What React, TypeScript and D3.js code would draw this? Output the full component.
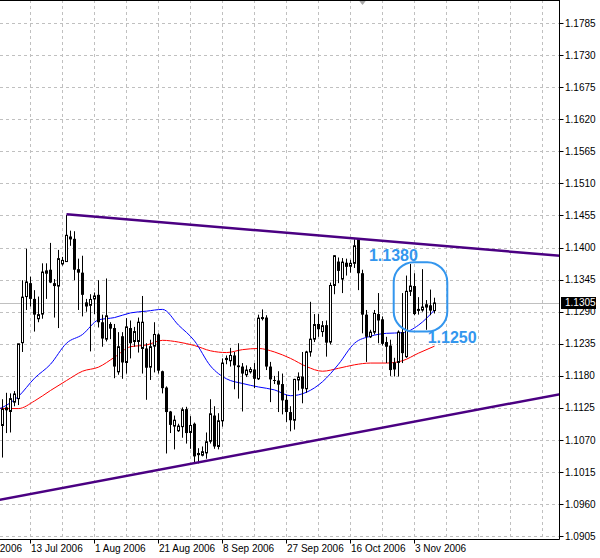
import React, {FC, useEffect, useRef} from 'react';
import * as d3 from 'd3';

// candles, index = bar number from the left edge of the chart
const opens = [
  1.1095, 1.1126, 1.1119, 1.1135, 1.1141, 1.1237, 1.1316, 1.1339, 1.1312, 1.1278,
  1.1286, 1.1356, 1.1362, 1.1339, 1.1334, 1.1372, 1.1376, 1.1419, 1.1415, 1.1363,
  1.1357, 1.1306, 1.1301, 1.1312, 1.1319, 1.1272, 1.1243, 1.1269, 1.1262, 1.1187,
  1.1248, 1.1203, 1.1262, 1.1239, 1.1239, 1.1227, 1.1227, 1.1195, 1.1231, 1.1251,
  1.1188, 1.1160, 1.1119, 1.1094, 1.1086, 1.1093, 1.1123, 1.1083, 1.1098, 1.1045,
  1.1044, 1.1048, 1.1068, 1.1112, 1.1059, 1.1103, 1.1208, 1.1206, 1.1215, 1.1198,
  1.1196, 1.1182, 1.1187, 1.1191, 1.1175, 1.1279, 1.1280, 1.1196, 1.1173, 1.1172,
  1.1166, 1.1139, 1.1118, 1.1104, 1.1173, 1.1179, 1.1158, 1.1221, 1.1243, 1.1269,
  1.1256, 1.1267, 1.1238, 1.1335, 1.1376, 1.1346, 1.1374, 1.1368, 1.1373, 1.1414,
  1.1356, 1.1285, 1.1247, 1.1255, 1.1286, 1.1277, 1.1238, 1.1232, 1.1203, 1.1203,
  1.1255, 1.1213, 1.1325, 1.1334, 1.1293, 1.1293, 1.1298, 1.1301, 1.1292,
];
const highs = [
  1.1140, 1.1151, 1.1150, 1.1154, 1.1235, 1.1344, 1.1398, 1.1350, 1.1327, 1.1316,
  1.1373, 1.1373, 1.1408, 1.1346, 1.1396, 1.1384, 1.1456, 1.1429, 1.1428, 1.1381,
  1.1386, 1.1312, 1.1320, 1.1323, 1.1344, 1.1285, 1.1347, 1.1272, 1.1269, 1.1255,
  1.1255, 1.1279, 1.1275, 1.1264, 1.1280, 1.1317, 1.1236, 1.1242, 1.1272, 1.1253,
  1.1189, 1.1162, 1.1120, 1.1112, 1.1098, 1.1126, 1.1127, 1.1111, 1.1100, 1.1056,
  1.1059, 1.1083, 1.1140, 1.1128, 1.1116, 1.1210, 1.1215, 1.1228, 1.1221, 1.1236,
  1.1202, 1.1198, 1.1195, 1.1202, 1.1285, 1.1294, 1.1284, 1.1204, 1.1180, 1.1188,
  1.1184, 1.1148, 1.1128, 1.1175, 1.1186, 1.1221, 1.1223, 1.1307, 1.1286, 1.1286,
  1.1274, 1.1275, 1.1340, 1.1387, 1.1383, 1.1382, 1.1381, 1.1379, 1.1414, 1.1414,
  1.1362, 1.1293, 1.1259, 1.1293, 1.1322, 1.1282, 1.1247, 1.1242, 1.1211, 1.1258,
  1.1322, 1.1352, 1.1372, 1.1356, 1.1315, 1.1363, 1.1310, 1.1328, 1.1314,
];
const lows = [
  1.1040, 1.1082, 1.1083, 1.1128, 1.1130, 1.1221, 1.1293, 1.1299, 1.1256, 1.1272,
  1.1278, 1.1312, 1.1339, 1.1280, 1.1262, 1.1369, 1.1376, 1.1403, 1.1344, 1.1293,
  1.1282, 1.1290, 1.1222, 1.1286, 1.1263, 1.1230, 1.1239, 1.1243, 1.1176, 1.1182,
  1.1175, 1.1184, 1.1210, 1.1230, 1.1220, 1.1184, 1.1139, 1.1173, 1.1186, 1.1184,
  1.1150, 1.1047, 1.1082, 1.1054, 1.1084, 1.1074, 1.1064, 1.1055, 1.1032, 1.1030,
  1.1042, 1.1038, 1.1064, 1.1055, 1.1054, 1.1093, 1.1200, 1.1196, 1.1157, 1.1141,
  1.1119, 1.1178, 1.1184, 1.1159, 1.1173, 1.1275, 1.1190, 1.1135, 1.1166, 1.1118,
  1.1114, 1.1101, 1.1085, 1.1088, 1.1155, 1.1133, 1.1151, 1.1213, 1.1238, 1.1247,
  1.1247, 1.1213, 1.1234, 1.1320, 1.1339, 1.1322, 1.1352, 1.1357, 1.1365, 1.1327,
  1.1253, 1.1204, 1.1245, 1.1251, 1.1236, 1.1232, 1.1202, 1.1180, 1.1179, 1.1179,
  1.1202, 1.1211, 1.1317, 1.1284, 1.1285, 1.1290, 1.1259, 1.1284, 1.1287,
];
const closes = [
  1.1123, 1.1121, 1.1141, 1.1149, 1.1235, 1.1315, 1.1341, 1.1312, 1.1285, 1.1285,
  1.1358, 1.1360, 1.1340, 1.1334, 1.1381, 1.1378, 1.1421, 1.1414, 1.1362, 1.1357,
  1.1319, 1.1299, 1.1311, 1.1317, 1.1272, 1.1244, 1.1283, 1.1261, 1.1196, 1.1230,
  1.1203, 1.1264, 1.1236, 1.1256, 1.1272, 1.1272, 1.1194, 1.1230, 1.1251, 1.1189,
  1.1159, 1.1118, 1.1096, 1.1104, 1.1094, 1.1122, 1.1082, 1.1095, 1.1042, 1.1047,
  1.1050, 1.1067, 1.1115, 1.1059, 1.1103, 1.1202, 1.1210, 1.1215, 1.1198, 1.1195,
  1.1184, 1.1190, 1.1191, 1.1175, 1.1279, 1.1280, 1.1196, 1.1174, 1.1172, 1.1165,
  1.1138, 1.1118, 1.1104, 1.1174, 1.1178, 1.1158, 1.1221, 1.1243, 1.1268, 1.1260,
  1.1266, 1.1237, 1.1335, 1.1386, 1.1360, 1.1375, 1.1367, 1.1373, 1.1403, 1.1356,
  1.1285, 1.1247, 1.1255, 1.1287, 1.1275, 1.1235, 1.1230, 1.1190, 1.1191, 1.1255,
  1.1219, 1.1325, 1.1334, 1.1286, 1.1294, 1.1298, 1.1302, 1.1292, 1.1305,
];

const maBars = [-1, 0, 4, 8, 12, 16, 20, 24, 28, 32, 36, 40, 44, 48, 52, 56, 60, 64, 68, 72, 76, 80, 84, 88, 92, 96, 100, 104, 108];
const blueMA = [
  1.1123, 1.1126, 1.1145, 1.1176, 1.1200, 1.1236, 1.1251, 1.1276, 1.1280, 1.1288,
  1.1291, 1.1294, 1.1267, 1.1240, 1.1197, 1.1175, 1.1167, 1.1161, 1.1156, 1.1146,
  1.1152, 1.1170, 1.1200, 1.1236, 1.1248, 1.1253, 1.1254, 1.1267, 1.1293,
];
const redMA = [
  1.1125, 1.1124, 1.1124, 1.1137, 1.1155, 1.1172, 1.1188, 1.1195, 1.1212, 1.1230,
  1.1233, 1.1241, 1.1238, 1.1232, 1.1223, 1.1220, 1.1225, 1.1227, 1.1221, 1.1210,
  1.1196, 1.1188, 1.1193, 1.1199, 1.1202, 1.1202, 1.1206, 1.1219, 1.1231,
];

// trend lines (bar, price) anchor pairs
const upperTrendBars = [16, 140];
const upperTrendPrices = [1.1457, 1.13855];
const lowerTrendBars = [-1, 140];
const lowerTrendPrices = [1.0967, 1.11495];

const priceTicks = [
  '1.1785', '1.1730', '1.1675', '1.1620', '1.1565', '1.1510', '1.1455', '1.1400', '1.1345',
  '1.1290', '1.1235', '1.1180', '1.1125', '1.1070', '1.1015', '1.0960', '1.0905',
];
const dateLabels = ['26 Jun 2006', '13 Jul 2006', '1 Aug 2006', '21 Aug 2006', '8 Sep 2006', '27 Sep 2006', '16 Oct 2006', '3 Nov 2006'];
const dateBars = [-9, 7, 23, 39, 55, 71, 87, 103];

// hand drawn notes
const noteLabels = ['1.1380', '1.1250'];
const noteBars = [91.6, 106.3];
const notePrices = [1.1377, 1.1236];
const zoneBars = [97.8, 111.2];
const zonePrices = [1.1375, 1.1256];

const shiftBar = 90;

const W = 600,
  H = 558;

const App: FC = () => {
  const ref = useRef<SVGSVGElement>(null);

  useEffect(() => {
    document.body.style.margin = '0';
    const svg = d3.select(ref.current);
    svg.selectAll('*').remove();

    const right = 559.5,
      bottom = 539.5;
    const x = d3.scaleLinear().domain([0, 1]).range([2.5, 6.5]);
    const y = d3.scaleLinear().domain([1.0905, 1.1785]).range([536.3, 23]);
    const crisp = (v: number) => Math.round(v) + 0.5;
    const axisFont = "'Liberation Sans', Arial, sans-serif";
    const noteColor = '#3396ee';

    svg.append('rect').attr('width', W).attr('height', H).attr('fill', '#ffffff');

    svg
      .append('defs')
      .append('clipPath')
      .attr('id', 'plot')
      .append('rect')
      .attr('x', 0)
      .attr('y', 0)
      .attr('width', right)
      .attr('height', bottom);

    const plot = svg.append('g').attr('clip-path', 'url(#plot)');

    // grid
    const gridBars = d3.range(-1, 141, 8);
    plot
      .selectAll('line.vgrid')
      .data(gridBars)
      .enter()
      .append('line')
      .attr('x1', d => x(d))
      .attr('x2', d => x(d))
      .attr('y1', 0)
      .attr('y2', bottom)
      .attr('stroke', '#c0c0c0')
      .attr('stroke-dasharray', '3,3');
    plot
      .selectAll('line.hgrid')
      .data(priceTicks)
      .enter()
      .append('line')
      .attr('x1', 0)
      .attr('x2', right)
      .attr('y1', d => crisp(y(+d)))
      .attr('y2', d => crisp(y(+d)))
      .attr('stroke', '#c0c0c0')
      .attr('stroke-dasharray', '3,3');

    // current price line
    const last = closes[closes.length - 1];
    plot
      .append('line')
      .attr('x1', 0)
      .attr('x2', right)
      .attr('y1', crisp(y(last)))
      .attr('y2', crisp(y(last)))
      .attr('stroke', '#c0c0c0');

    // moving averages
    const ma = (vals: number[]) =>
      d3
        .line<number>()
        .x((_, i) => x(maBars[i]))
        .y(d => y(d))
        .curve(d3.curveMonotoneX)(vals);
    plot.append('path').attr('d', ma(redMA)).attr('fill', 'none').attr('stroke', '#ff0000').attr('stroke-width', 1);
    plot.append('path').attr('d', ma(blueMA)).attr('fill', 'none').attr('stroke', '#0000ff').attr('stroke-width', 1);

    // candles
    const idx = d3.range(closes.length);
    plot
      .selectAll('line.wick')
      .data(idx)
      .enter()
      .append('line')
      .attr('x1', i => x(i))
      .attr('x2', i => x(i))
      .attr('y1', i => y(highs[i]))
      .attr('y2', i => y(lows[i]))
      .attr('stroke', '#000');
    plot
      .selectAll('rect.body')
      .data(idx)
      .enter()
      .append('rect')
      .attr('x', i => (closes[i] >= opens[i] ? x(i) - 1 : x(i) - 1.5))
      .attr('width', i => (closes[i] >= opens[i] ? 2 : 3))
      .attr('y', i => y(Math.max(opens[i], closes[i])))
      .attr('height', i => Math.max(1, Math.abs(y(opens[i]) - y(closes[i]))))
      .attr('fill', i => (closes[i] >= opens[i] ? '#ffffff' : '#000000'))
      .attr('stroke', i => (closes[i] >= opens[i] ? '#000' : 'none'));

    // trend lines
    const trend = (bars: number[], prices: number[]) =>
      d3
        .line<number>()
        .x((_, i) => x(bars[i]))
        .y(d => y(d))(prices);
    plot
      .append('path')
      .attr('d', trend(upperTrendBars, upperTrendPrices))
      .attr('stroke', '#4b0082')
      .attr('stroke-width', 2.5)
      .attr('fill', 'none');
    plot
      .append('path')
      .attr('d', trend(lowerTrendBars, lowerTrendPrices))
      .attr('stroke', '#4b0082')
      .attr('stroke-width', 2.5)
      .attr('fill', 'none');

    // notes
    plot
      .append('rect')
      .attr('x', x(zoneBars[0]))
      .attr('y', y(zonePrices[0]))
      .attr('width', x(zoneBars[1]) - x(zoneBars[0]))
      .attr('height', y(zonePrices[1]) - y(zonePrices[0]))
      .attr('rx', 20)
      .attr('ry', 20)
      .attr('fill', 'none')
      .attr('stroke', noteColor)
      .attr('stroke-width', 2);
    plot
      .selectAll('text.note')
      .data(noteLabels)
      .enter()
      .append('text')
      .attr('x', (_, i) => x(noteBars[i]))
      .attr('y', (_, i) => y(notePrices[i]))
      .attr('fill', noteColor)
      .attr('font-family', axisFont)
      .attr('font-weight', 'bold')
      .attr('font-size', 16)
      .text(d => d);

    // shift marker
    const sx = x(shiftBar);
    svg
      .append('path')
      .attr('d', `M${sx - 4},0L${sx + 4},0L${sx},5Z`)
      .attr('fill', '#a8a8a8');

    // frame
    svg.append('line').attr('x1', 0).attr('x2', right).attr('y1', 0.5).attr('y2', 0.5).attr('stroke', '#000');
    svg.append('line').attr('x1', right).attr('x2', right).attr('y1', 0).attr('y2', bottom).attr('stroke', '#000');
    svg.append('line').attr('x1', 0).attr('x2', right).attr('y1', bottom).attr('y2', bottom).attr('stroke', '#000');

    // price axis
    const yAxis = svg.append('g');
    yAxis
      .selectAll('line')
      .data(priceTicks)
      .enter()
      .append('line')
      .attr('x1', right)
      .attr('x2', right + 4)
      .attr('y1', d => crisp(y(+d)))
      .attr('y2', d => crisp(y(+d)))
      .attr('stroke', '#000');
    yAxis
      .selectAll('text')
      .data(priceTicks)
      .enter()
      .append('text')
      .attr('x', 565)
      .attr('y', d => y(+d))
      .attr('dy', '0.35em')
      .attr('font-family', axisFont)
      .attr('font-size', 10)
      .attr('fill', '#000')
      .text(d => d);

    // last price box
    svg
      .append('rect')
      .attr('x', 561)
      .attr('y', crisp(y(last)) - 6.5)
      .attr('width', 35)
      .attr('height', 12)
      .attr('fill', '#000');
    svg
      .append('text')
      .attr('x', 565)
      .attr('y', y(last))
      .attr('dy', '0.35em')
      .attr('font-family', axisFont)
      .attr('font-size', 10)
      .attr('fill', '#fff')
      .text(last.toFixed(4));

    // time axis
    const xAxis = svg.append('g');
    xAxis
      .selectAll('line')
      .data(dateBars)
      .enter()
      .append('line')
      .attr('x1', d => x(d))
      .attr('x2', d => x(d))
      .attr('y1', bottom)
      .attr('y2', bottom + 4)
      .attr('stroke', '#000');
    xAxis
      .selectAll('text')
      .data(dateLabels)
      .enter()
      .append('text')
      .attr('x', (_, i) => x(dateBars[i]) + 0.5)
      .attr('y', 552)
      .attr('font-family', axisFont)
      .attr('font-size', 10)
      .attr('fill', '#000')
      .text(d => d);
  }, []);

  return <svg ref={ref} width={W} height={H} style={{display: 'block'}} />;
};

export default App;
